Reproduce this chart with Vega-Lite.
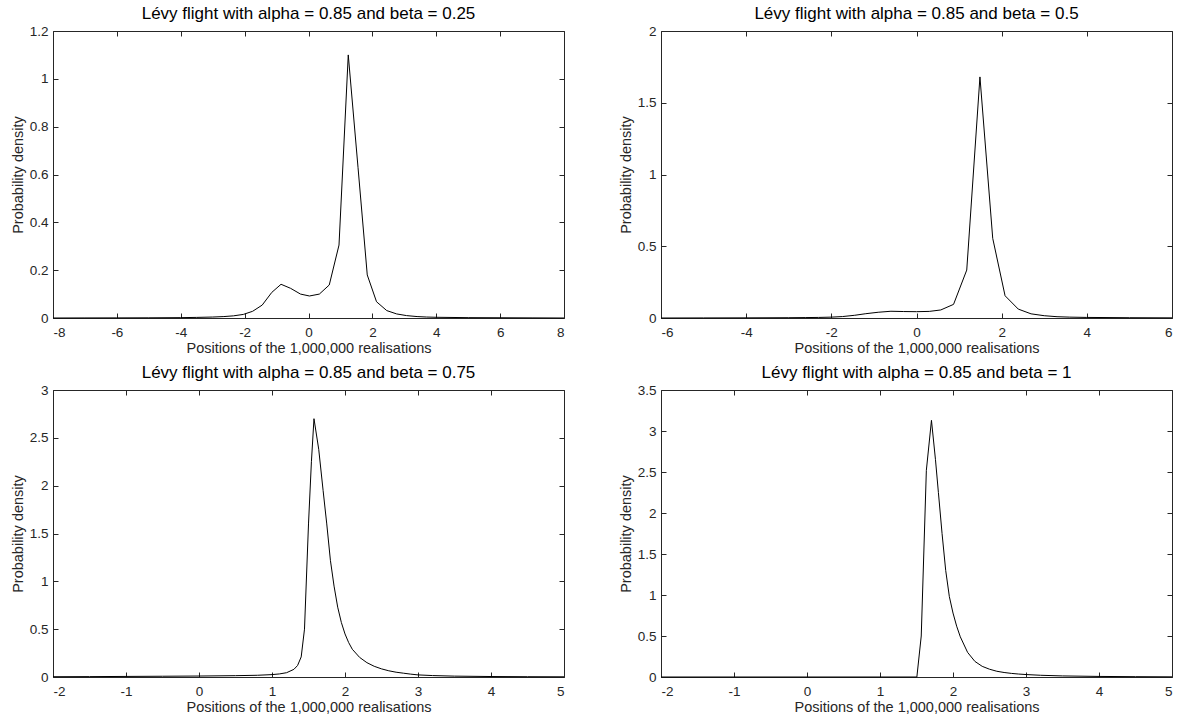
{
  "$schema": "https://vega.github.io/schema/vega-lite/v6.json",
  "background": "white",
  "padding": {"left": 9, "top": 4, "right": 5, "bottom": 5},
  "config": {
    "font": "Liberation Sans",
    "view": {"stroke": "#262626", "strokeWidth": 1},
    "axis": {
      "grid": false,
      "domain": false,
      "tickColor": "#262626",
      "tickSize": -5,
      "tickWidth": 1,
      "labelColor": "#262626",
      "labelFont": "Liberation Sans",
      "labelFontSize": 13.5,
      "titleFont": "Liberation Sans",
      "titleFontSize": 14.5,
      "titleFontWeight": "normal",
      "titleColor": "#262626",
      "labelExpr": "'' + datum.value"
    },
    "axisX": {"labelPadding": 12, "titlePadding": 3},
    "axisY": {"labelPadding": 10, "titlePadding": 4},
    "title": {"font": "Liberation Sans", "fontSize": 17, "fontWeight": "normal", "color": "#000000", "offset": 1}
  },
  "datasets": {
    "d1": [
      {"x": -8, "y": 0}, {"x": -7, "y": 0.0003}, {"x": -6, "y": 0.0005}, {"x": -5, "y": 0.0008},
      {"x": -4, "y": 0.0015}, {"x": -3.5, "y": 0.0025}, {"x": -3.0, "y": 0.004}, {"x": -2.65, "y": 0.006},
      {"x": -2.35, "y": 0.009}, {"x": -2.04, "y": 0.015}, {"x": -1.75, "y": 0.028}, {"x": -1.45, "y": 0.054},
      {"x": -1.15, "y": 0.107}, {"x": -0.86, "y": 0.141}, {"x": -0.56, "y": 0.124}, {"x": -0.25, "y": 0.1},
      {"x": 0.03, "y": 0.092}, {"x": 0.34, "y": 0.1}, {"x": 0.65, "y": 0.138}, {"x": 0.955, "y": 0.305},
      {"x": 1.245, "y": 1.1}, {"x": 1.55, "y": 0.63}, {"x": 1.84, "y": 0.18}, {"x": 2.13, "y": 0.068},
      {"x": 2.45, "y": 0.031}, {"x": 2.76, "y": 0.017}, {"x": 3.07, "y": 0.01}, {"x": 3.4, "y": 0.006},
      {"x": 3.7, "y": 0.004}, {"x": 4.0, "y": 0.003}, {"x": 5, "y": 0.0015}, {"x": 6, "y": 0.001},
      {"x": 7, "y": 0.0005}, {"x": 8, "y": 0}
    ],
    "d2": [
      {"x": -6, "y": 0}, {"x": -5, "y": 0.0005}, {"x": -4, "y": 0.001}, {"x": -3, "y": 0.002},
      {"x": -2.6, "y": 0.003}, {"x": -2.3, "y": 0.004}, {"x": -2.0, "y": 0.006}, {"x": -1.74, "y": 0.01},
      {"x": -1.45, "y": 0.019}, {"x": -1.19, "y": 0.03}, {"x": -0.9, "y": 0.04}, {"x": -0.6, "y": 0.047},
      {"x": -0.3, "y": 0.045}, {"x": 0, "y": 0.044}, {"x": 0.3, "y": 0.046}, {"x": 0.57, "y": 0.056},
      {"x": 0.87, "y": 0.095}, {"x": 1.18, "y": 0.334}, {"x": 1.49, "y": 1.68}, {"x": 1.79, "y": 0.555},
      {"x": 2.08, "y": 0.155}, {"x": 2.39, "y": 0.062}, {"x": 2.69, "y": 0.029}, {"x": 3.0, "y": 0.016},
      {"x": 3.3, "y": 0.009}, {"x": 3.6, "y": 0.006}, {"x": 4, "y": 0.004}, {"x": 5, "y": 0.002},
      {"x": 6, "y": 0.001}
    ],
    "d3": [
      {"x": -2, "y": 0.003}, {"x": -1.5, "y": 0.004}, {"x": -1, "y": 0.006}, {"x": -0.5, "y": 0.008},
      {"x": 0, "y": 0.01}, {"x": 0.5, "y": 0.014}, {"x": 0.8, "y": 0.018}, {"x": 1.0, "y": 0.025},
      {"x": 1.1, "y": 0.032}, {"x": 1.2, "y": 0.045}, {"x": 1.3, "y": 0.08}, {"x": 1.35, "y": 0.12},
      {"x": 1.4, "y": 0.21}, {"x": 1.445, "y": 0.5}, {"x": 1.5, "y": 1.6}, {"x": 1.54, "y": 2.25},
      {"x": 1.575, "y": 2.7}, {"x": 1.64, "y": 2.38}, {"x": 1.7, "y": 1.95}, {"x": 1.75, "y": 1.6},
      {"x": 1.8, "y": 1.22}, {"x": 1.85, "y": 0.95}, {"x": 1.9, "y": 0.73}, {"x": 1.95, "y": 0.57},
      {"x": 2.0, "y": 0.45}, {"x": 2.05, "y": 0.36}, {"x": 2.1, "y": 0.29}, {"x": 2.2, "y": 0.205},
      {"x": 2.3, "y": 0.15}, {"x": 2.4, "y": 0.112}, {"x": 2.5, "y": 0.085}, {"x": 2.6, "y": 0.065},
      {"x": 2.7, "y": 0.05}, {"x": 2.8, "y": 0.04}, {"x": 2.9, "y": 0.03}, {"x": 3.0, "y": 0.022},
      {"x": 3.2, "y": 0.015}, {"x": 3.5, "y": 0.009}, {"x": 4.0, "y": 0.005}, {"x": 4.5, "y": 0.003},
      {"x": 5.0, "y": 0.002}
    ],
    "d4": [
      {"x": -2, "y": 0}, {"x": 1.0, "y": 0}, {"x": 1.505, "y": 0}, {"x": 1.565, "y": 0.5},
      {"x": 1.635, "y": 2.52}, {"x": 1.705, "y": 3.13}, {"x": 1.76, "y": 2.65}, {"x": 1.8, "y": 2.25},
      {"x": 1.85, "y": 1.75}, {"x": 1.9, "y": 1.3}, {"x": 1.95, "y": 0.98}, {"x": 2.0, "y": 0.78},
      {"x": 2.05, "y": 0.62}, {"x": 2.1, "y": 0.49}, {"x": 2.2, "y": 0.3}, {"x": 2.3, "y": 0.19},
      {"x": 2.4, "y": 0.13}, {"x": 2.5, "y": 0.095}, {"x": 2.6, "y": 0.07}, {"x": 2.7, "y": 0.055},
      {"x": 2.8, "y": 0.044}, {"x": 2.9, "y": 0.036}, {"x": 3.0, "y": 0.03}, {"x": 3.2, "y": 0.021},
      {"x": 3.5, "y": 0.013}, {"x": 4.0, "y": 0.007}, {"x": 4.5, "y": 0.004}, {"x": 5.0, "y": 0.002}
    ]
  },
  "columns": 2,
  "spacing": {"row": 72, "column": 97},
  "bounds": "flush",
  "concat": [
    {
      "title": "Lévy flight with alpha = 0.85 and beta = 0.25",
      "width": 511, "height": 287,
      "data": {"name": "d1"},
      "layer": [
        {
          "mark": {"type": "line", "color": "#000000", "strokeWidth": 1},
          "encoding": {
            "x": {"field": "x", "type": "quantitative", "scale": {"domain": [-8, 8], "nice": false, "zero": false},
                  "axis": {"values": [-8, -6, -4, -2, 0, 2, 4, 6, 8], "title": "Positions of the 1,000,000 realisations"}},
            "y": {"field": "y", "type": "quantitative", "scale": {"domain": [0, 1.2], "nice": false},
                  "axis": {"values": [0, 0.2, 0.4, 0.6, 0.8, 1, 1.2], "title": "Probability density"}}
          }
        },
        {
          "mark": {"type": "line", "opacity": 0},
          "encoding": {
            "x": {"field": "x", "type": "quantitative", "axis": {"orient": "top", "values": [-8, -6, -4, -2, 0, 2, 4, 6, 8], "labels": false, "title": null}},
            "y": {"field": "y", "type": "quantitative", "axis": {"orient": "right", "values": [0, 0.2, 0.4, 0.6, 0.8, 1, 1.2], "labels": false, "title": null}}
          }
        }
      ],
      "resolve": {"axis": {"x": "independent", "y": "independent"}}
    },
    {
      "title": "Lévy flight with alpha = 0.85 and beta = 0.5",
      "width": 511, "height": 287,
      "data": {"name": "d2"},
      "layer": [
        {
          "mark": {"type": "line", "color": "#000000", "strokeWidth": 1},
          "encoding": {
            "x": {"field": "x", "type": "quantitative", "scale": {"domain": [-6, 6], "nice": false, "zero": false},
                  "axis": {"values": [-6, -4, -2, 0, 2, 4, 6], "title": "Positions of the 1,000,000 realisations"}},
            "y": {"field": "y", "type": "quantitative", "scale": {"domain": [0, 2], "nice": false},
                  "axis": {"values": [0, 0.5, 1, 1.5, 2], "title": "Probability density"}}
          }
        },
        {
          "mark": {"type": "line", "opacity": 0},
          "encoding": {
            "x": {"field": "x", "type": "quantitative", "axis": {"orient": "top", "values": [-6, -4, -2, 0, 2, 4, 6], "labels": false, "title": null}},
            "y": {"field": "y", "type": "quantitative", "axis": {"orient": "right", "values": [0, 0.5, 1, 1.5, 2], "labels": false, "title": null}}
          }
        }
      ],
      "resolve": {"axis": {"x": "independent", "y": "independent"}}
    },
    {
      "title": "Lévy flight with alpha = 0.85 and beta = 0.75",
      "width": 511, "height": 287,
      "data": {"name": "d3"},
      "layer": [
        {
          "mark": {"type": "line", "color": "#000000", "strokeWidth": 1},
          "encoding": {
            "x": {"field": "x", "type": "quantitative", "scale": {"domain": [-2, 5], "nice": false, "zero": false},
                  "axis": {"values": [-2, -1, 0, 1, 2, 3, 4, 5], "title": "Positions of the 1,000,000 realisations"}},
            "y": {"field": "y", "type": "quantitative", "scale": {"domain": [0, 3], "nice": false},
                  "axis": {"values": [0, 0.5, 1, 1.5, 2, 2.5, 3], "title": "Probability density"}}
          }
        },
        {
          "mark": {"type": "line", "opacity": 0},
          "encoding": {
            "x": {"field": "x", "type": "quantitative", "axis": {"orient": "top", "values": [-2, -1, 0, 1, 2, 3, 4, 5], "labels": false, "title": null}},
            "y": {"field": "y", "type": "quantitative", "axis": {"orient": "right", "values": [0, 0.5, 1, 1.5, 2, 2.5, 3], "labels": false, "title": null}}
          }
        }
      ],
      "resolve": {"axis": {"x": "independent", "y": "independent"}}
    },
    {
      "title": "Lévy flight with alpha = 0.85 and beta = 1",
      "width": 511, "height": 287,
      "data": {"name": "d4"},
      "layer": [
        {
          "mark": {"type": "line", "color": "#000000", "strokeWidth": 1},
          "encoding": {
            "x": {"field": "x", "type": "quantitative", "scale": {"domain": [-2, 5], "nice": false, "zero": false},
                  "axis": {"values": [-2, -1, 0, 1, 2, 3, 4, 5], "title": "Positions of the 1,000,000 realisations"}},
            "y": {"field": "y", "type": "quantitative", "scale": {"domain": [0, 3.5], "nice": false},
                  "axis": {"values": [0, 0.5, 1, 1.5, 2, 2.5, 3, 3.5], "title": "Probability density"}}
          }
        },
        {
          "mark": {"type": "line", "opacity": 0},
          "encoding": {
            "x": {"field": "x", "type": "quantitative", "axis": {"orient": "top", "values": [-2, -1, 0, 1, 2, 3, 4, 5], "labels": false, "title": null}},
            "y": {"field": "y", "type": "quantitative", "axis": {"orient": "right", "values": [0, 0.5, 1, 1.5, 2, 2.5, 3, 3.5], "labels": false, "title": null}}
          }
        }
      ],
      "resolve": {"axis": {"x": "independent", "y": "independent"}}
    }
  ]
}
